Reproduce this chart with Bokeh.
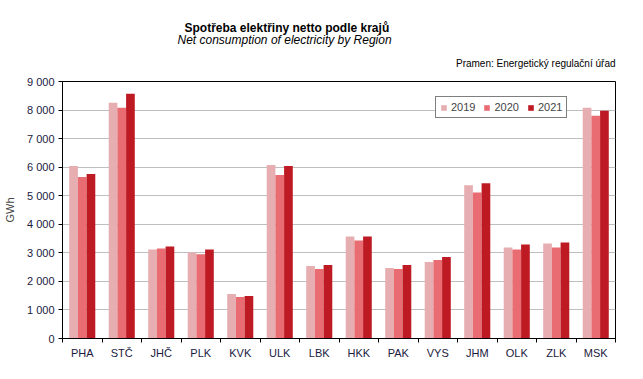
from bokeh.plotting import figure
from bokeh.models import ColumnDataSource, FixedTicker, Title, Legend, LegendItem, Range1d
from bokeh.embed import file_html
from bokeh.resources import INLINE

regions = ["PHA", "STČ", "JHČ", "PLK", "KVK", "ULK", "LBK", "HKK", "PAK", "VYS", "JHM", "OLK", "ZLK", "MSK"]
years = ["2019", "2020", "2021"]
v2019 = [6045, 8255, 3115, 3010, 1560, 6080, 2535, 3575, 2470, 2680, 5365, 3185, 3325, 8080]
v2020 = [5660, 8080, 3150, 2950, 1455, 5730, 2430, 3430, 2430, 2750, 5115, 3115, 3185, 7800]
v2021 = [5765, 8575, 3220, 3115, 1490, 6045, 2575, 3575, 2575, 2855, 5435, 3290, 3360, 7975]
colors = ["#E6AEB1", "#E86C72", "#BE1A23"]
y_ticks = [0, 1000, 2000, 3000, 4000, 5000, 6000, 7000, 8000, 9000]

FONT = "Liberation Sans"

p = figure(width=627, height=363, output_backend="svg", toolbar_location=None,
           x_range=Range1d(0, len(regions)), y_range=Range1d(0, 9000),
           frame_width=553, frame_height=257,
           min_border_left=56, min_border_right=18, min_border_top=81, min_border_bottom=25)
p.background_fill_color = "white"
p.border_fill_color = "white"
p.outline_line_color = "black"
p.outline_line_width = 1

centers = [i + 0.5 for i in range(len(regions))]
bw = 0.22
offsets = [-bw, 0.0, bw]
series = [v2019, v2020, v2021]
renderers = []
for yr, vals, off, c in zip(years, series, offsets, colors):
    src = ColumnDataSource(dict(x=[cx + off for cx in centers], top=vals))
    r = p.vbar(x="x", top="top", width=bw, source=src, fill_color=c, line_color=None)
    renderers.append(r)

# axes
p.xaxis.ticker = FixedTicker(ticks=centers, minor_ticks=list(range(len(regions) + 1)))
p.xaxis.major_label_overrides = {c: r for c, r in zip(centers, regions)}
p.xaxis.major_tick_in = 0
p.xaxis.major_tick_out = 0
p.xaxis.minor_tick_in = 0
p.xaxis.minor_tick_out = 4
p.xaxis.minor_tick_line_color = "black"
p.xaxis.axis_line_color = "black"
p.xaxis.major_label_text_font = FONT
p.xaxis.major_label_text_font_size = "11px"
p.xaxis.major_label_text_color = "#1a1a40"
p.xaxis.major_label_standoff = 4

p.yaxis.ticker = FixedTicker(ticks=y_ticks)
p.yaxis.major_label_overrides = {t: f"{t:,}".replace(",", " ") for t in y_ticks}
p.yaxis.major_tick_in = 0
p.yaxis.major_tick_out = 4
p.yaxis.minor_tick_line_color = None
p.yaxis.axis_line_color = "black"
p.yaxis.major_tick_line_color = "black"
p.yaxis.major_label_text_font = FONT
p.yaxis.major_label_text_font_size = "11px"
p.yaxis.major_label_text_color = "#1a1a40"
p.yaxis.major_label_standoff = 4
p.yaxis.axis_label = "GWh"
p.yaxis.axis_label_text_font = FONT
p.yaxis.axis_label_text_font_style = "normal"
p.yaxis.axis_label_text_font_size = "11px"
p.yaxis.axis_label_standoff = 8

p.xgrid.grid_line_color = None
p.ygrid.grid_line_color = "#BFBFBF"
p.ygrid.grid_line_width = 1

# titles (first added is nearest to the plot)
t3 = Title(text="Pramen: Energetický regulační úřad", align="right", text_font=FONT,
           text_font_size="10px", text_font_style="normal", text_color="black",
           standoff=26, text_line_height=0.5)
t2 = Title(text="Net consumption  of electricity by Region", align="left", offset=115,
           text_font=FONT, text_font_size="12px", text_font_style="italic", text_color="black",
           standoff=-9)
t1 = Title(text="Spotřeba elektřiny netto podle krajů", align="left", offset=122,
           text_font=FONT, text_font_size="12px", text_font_style="bold", text_color="black", standoff=2)
p.add_layout(t3, "above")
p.add_layout(t2, "above")
p.add_layout(t1, "above")

legend = Legend(items=[LegendItem(label=y, renderers=[r]) for y, r in zip(years, renderers)],
                orientation="horizontal", location=(373, 220))
legend.label_text_font = FONT
legend.label_text_font_size = "11px"
legend.glyph_width = 7
legend.glyph_height = 7
legend.label_standoff = 4
legend.spacing = 8
legend.padding = 4
legend.margin = 0
legend.border_line_color = "black"
legend.border_line_width = 1
legend.label_height = 10
p.add_layout(legend, "center")

open("out.html", "w").write(file_html(p, INLINE))
